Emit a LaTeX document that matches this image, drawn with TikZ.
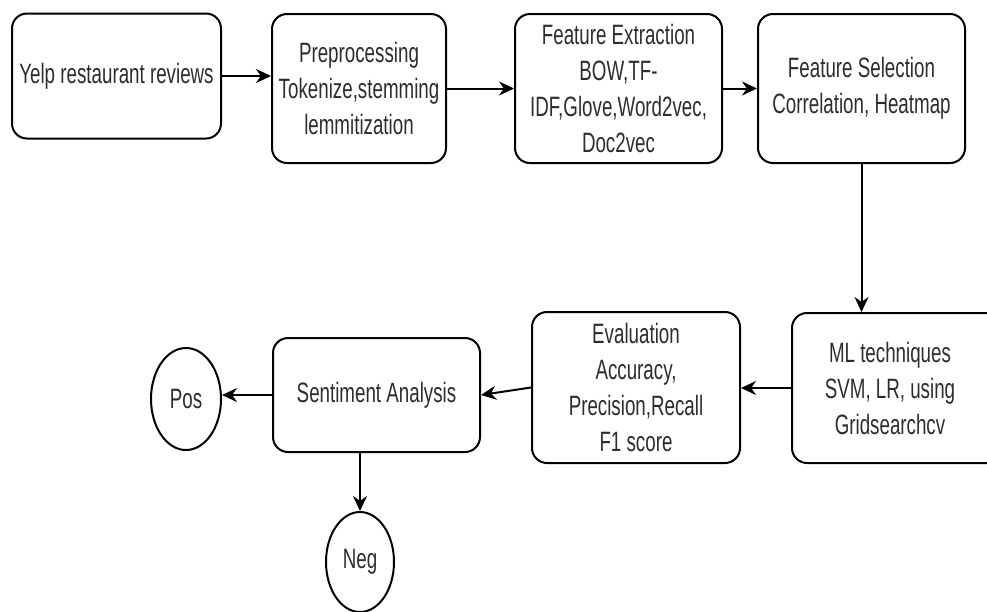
\documentclass[tikz,border=0pt]{standalone}
\usepackage{fontspec}
\setmainfont{Liberation Sans}[FakeStretch=0.67]
\usepackage{tikz}
\usetikzlibrary{arrows.meta, shapes.geometric}
\definecolor{textgray}{RGB}{45,45,45}

\begin{document}
\begin{tikzpicture}[x=1pt, y=-1pt]
	\tikzset{step_box/.style={draw, line width=2pt, rounded corners=15pt, align=center, inner sep=0pt, text=textgray, font=\fontsize{28}{36}\selectfont}}
	\tikzset{class/.style={draw, ellipse, line width=2pt, inner sep=0pt, text=textgray, font=\fontsize{28}{36}\selectfont}}
	\tikzset{edge/.style={-{Stealth[length=15pt, width=14pt]}, line width=2pt}}
	
	\useasboundingbox (0,0) rectangle (987,611);
	\clip (0,0) rectangle (987,611);
	
	\node(yelp) at (116.5,76) [step_box, minimum width=209pt, minimum height=125pt] {Yelp restaurant reviews};
	\node(prep) at (359,88.5) [step_box, minimum width=174pt, minimum height=149pt] {Preprocessing\\Tokenize,stemming\\lemmitization};
	\node(feat) at (618.5,88.5) [step_box, minimum width=207pt, minimum height=149pt] {Feature Extraction\\BOW,TF-\\IDF,Glove,Word2vec,\\Doc2vec};
	\node(sel) at (861.5,88.5) [step_box, minimum width=207pt, minimum height=149pt] {Feature Selection\\Correlation, Heatmap};
	
	\node(ml) at (902,388) [step_box, minimum width=220pt, minimum height=150pt] {\hspace*{-24pt}ML techniques\\\hspace*{-24pt}SVM, LR, using\\\hspace*{-24pt}Gridsearchcv};
	\node(eval) at (636,387.5) [step_box, minimum width=208pt, minimum height=151pt] {Evaluation\\Accuracy,\\Precision,Recall\\F1 score};
	\node(sent) at (376.5,395) [step_box, minimum width=207pt, minimum height=114pt] {Sentiment Analysis};
	
	\node(pos) at (186,399) [class, minimum width=70pt, minimum height=102pt] {Pos};
	\node(neg) at (360,562) [class, minimum width=68pt, minimum height=100pt] {Neg};
	
	\draw[edge] (yelp.east) -- (yelp.east -| prep.west);
	\draw[edge] (prep) -- (feat);
	\draw[edge] (feat) -- (sel);
	\draw[edge] (sel.south) -- (sel.south |- ml.north);
	\draw[edge] (ml.west) -- (ml.west -| eval.east);
	\draw[edge] (eval.west) -- (sent.east);
	\draw[edge] (sent.west) -- (sent.west -| pos.east);
	\draw[edge] (neg.north |- sent.south) -- (neg.north);
	
\end{tikzpicture}
\end{document}
